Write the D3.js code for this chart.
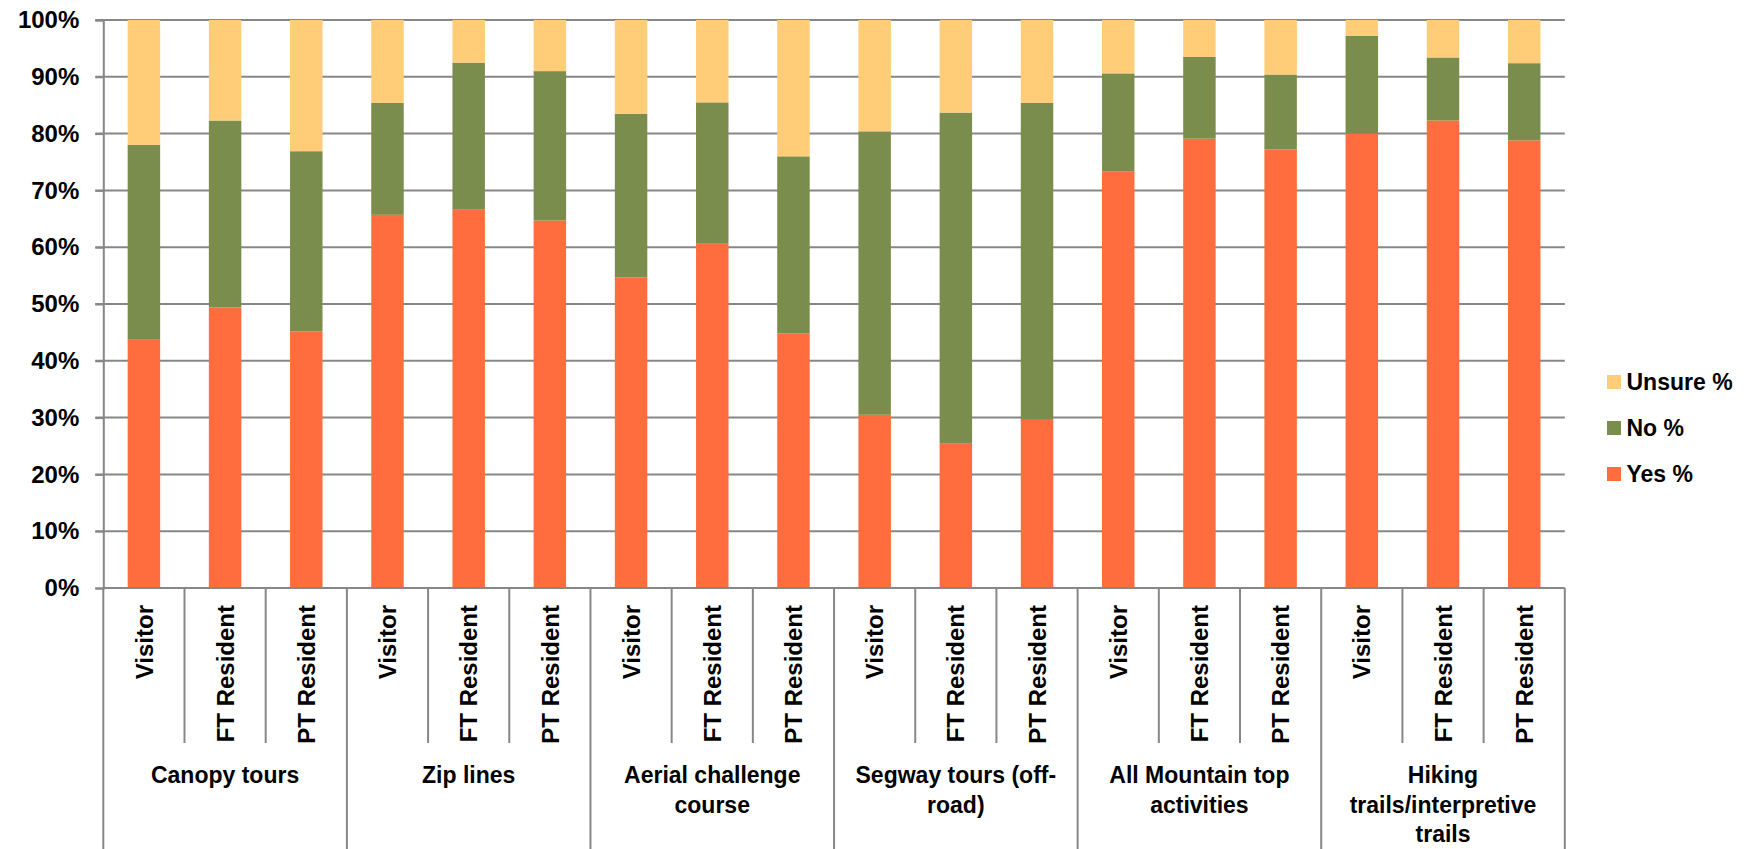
<!DOCTYPE html>
<html>
<head>
<meta charset="utf-8">
<script src="https://cdn.jsdelivr.net/npm/d3@7"></script>
<style>
  html, body { margin: 0; padding: 0; background: #fff; }
  svg { display: block; }
  text { font-family: "Liberation Sans", Arial, sans-serif; font-weight: bold; fill: #000; }
</style>
</head>
<body>
<svg id="chart" width="1747" height="849"></svg>
<script>
// ---- data ----
const groups = [
  ["Canopy tours"],
  ["Zip lines"],
  ["Aerial challenge", "course"],
  ["Segway tours (off-", "road)"],
  ["All Mountain top", "activities"],
  ["Hiking", "trails/interpretive", "trails"]
];
const segments = ["Visitor", "FT Resident", "PT Resident"];
const seriesNames = ["Yes %", "No %", "Unsure %"];
const yesPct = [43.7, 49.4, 45.2, 65.7, 66.6, 64.7, 54.7, 60.6, 44.8, 30.5, 25.4, 29.6, 73.3, 79.1, 77.2, 80.0, 82.3, 78.8];
const noPct = [34.3, 32.9, 31.7, 19.7, 25.9, 26.3, 28.8, 24.9, 31.2, 49.9, 58.3, 55.8, 17.3, 14.4, 13.2, 17.2, 11.1, 13.6];
const unsurePct = [22.0, 17.7, 23.1, 14.6, 7.5, 9.0, 16.5, 14.5, 24.0, 19.6, 16.3, 14.6, 9.4, 6.5, 9.6, 2.8, 6.6, 7.6];
const yTicks = [0, 10, 20, 30, 40, 50, 60, 70, 80, 90, 100];
const colors = ["#FF6D3F", "#7B8D4C", "#FFCC77"];

(function () {
// ---- layout ----
const plotLeft = 103.3, plotRight = 1564.8, plotTop = 20, plotBottom = 588;
const svg = d3.select("#chart");
const gridColor = "#878787";

const keys = [];
groups.forEach((g, gi) => segments.forEach((s, si) => keys.push(gi + "|" + si)));
const rows = keys.map((k, i) => ({ key: k, "Yes %": yesPct[i], "No %": noPct[i], "Unsure %": unsurePct[i] }));

const x = d3.scaleBand().domain(keys).range([plotLeft, plotRight]).paddingInner(0.6).paddingOuter(0.3);
const y = d3.scaleLinear().domain([0, 100]).range([plotBottom, plotTop]);
const color = d3.scaleOrdinal().domain(seriesNames).range(colors);

// gridlines
svg.append("g").selectAll("line").data(yTicks.slice(1)).join("line")
  .attr("x1", plotLeft - 8).attr("x2", plotRight)
  .attr("y1", d => y(d)).attr("y2", d => y(d))
  .attr("stroke", gridColor).attr("stroke-width", 2);

// stacked bars
const stack = d3.stack().keys(seriesNames)(rows);
svg.append("g").selectAll("g").data(stack).join("g")
  .attr("fill", d => color(d.key))
  .selectAll("rect").data(d => d).join("rect")
  .attr("x", d => x(d.data.key))
  .attr("width", x.bandwidth())
  .attr("y", d => y(d[1]))
  .attr("height", d => y(d[0]) - y(d[1]));

// y axis
const yAxis = d3.axisLeft(y).tickValues(yTicks).tickFormat(d => d + "%").tickSize(8).tickPadding(16);
const ya = svg.append("g").attr("transform", `translate(${plotLeft},0)`).call(yAxis);
ya.select(".domain").attr("stroke", gridColor).attr("stroke-width", 2);
ya.selectAll(".tick line").attr("stroke", gridColor).attr("stroke-width", 2);
ya.selectAll(".tick text").style("font-size", "24px").style("font-family", "'Liberation Sans', Arial, sans-serif").style("font-weight", "bold").attr("fill", "#000");

// x axis baseline
svg.append("line").attr("x1", plotLeft).attr("x2", plotRight).attr("y1", plotBottom).attr("y2", plotBottom)
  .attr("stroke", gridColor).attr("stroke-width", 2);

// category separators
const step = x.step();
const boundaries = d3.range(keys.length + 1);
const bx = i => i < keys.length ? x(keys[i]) - x.paddingOuter() * step : plotRight;
svg.append("g").selectAll("line").data(boundaries).join("line")
  .attr("x1", bx).attr("x2", bx)
  .attr("y1", plotBottom)
  .attr("y2", i => i % 3 === 0 ? 849 : 743)
  .attr("stroke", gridColor).attr("stroke-width", 2);

// rotated segment labels
svg.append("g").selectAll("text").data(keys).join("text")
  .attr("transform", k => `translate(${x(k) + x.bandwidth() / 2},605) rotate(-90)`)
  .attr("text-anchor", "end").attr("dy", "0.36em")
  .style("font-size", "24px")
  .text(k => segments[+k.split("|")[1]]);

// group labels
svg.append("g").selectAll("text").data(groups).join("text")
  .attr("text-anchor", "middle")
  .attr("x", (g, gi) => {
    const a = x(keys[gi * 3]), b = x(keys[gi * 3 + 2]) + x.bandwidth();
    return (a + b) / 2;
  })
  .attr("y", 783)
  .style("font-size", "23px")
  .each(function (g) {
    const t = d3.select(this);
    t.selectAll("tspan").data(g).join("tspan")
      .attr("x", t.attr("x"))
      .attr("dy", (d, i) => i === 0 ? 0 : 29.5)
      .text(d => d);
  });

// legend
const legendItems = seriesNames.slice().reverse();
const lg = svg.append("g").selectAll("g").data(legendItems).join("g")
  .attr("transform", (d, i) => `translate(1607,${382 + i * 46})`);
lg.append("rect").attr("x", 0).attr("y", -7).attr("width", 14).attr("height", 14).attr("fill", d => color(d));
lg.append("text").attr("x", 19.5).attr("dy", "0.36em").style("font-size", "23px").text(d => d);
})();
</script>
</body>
</html>
